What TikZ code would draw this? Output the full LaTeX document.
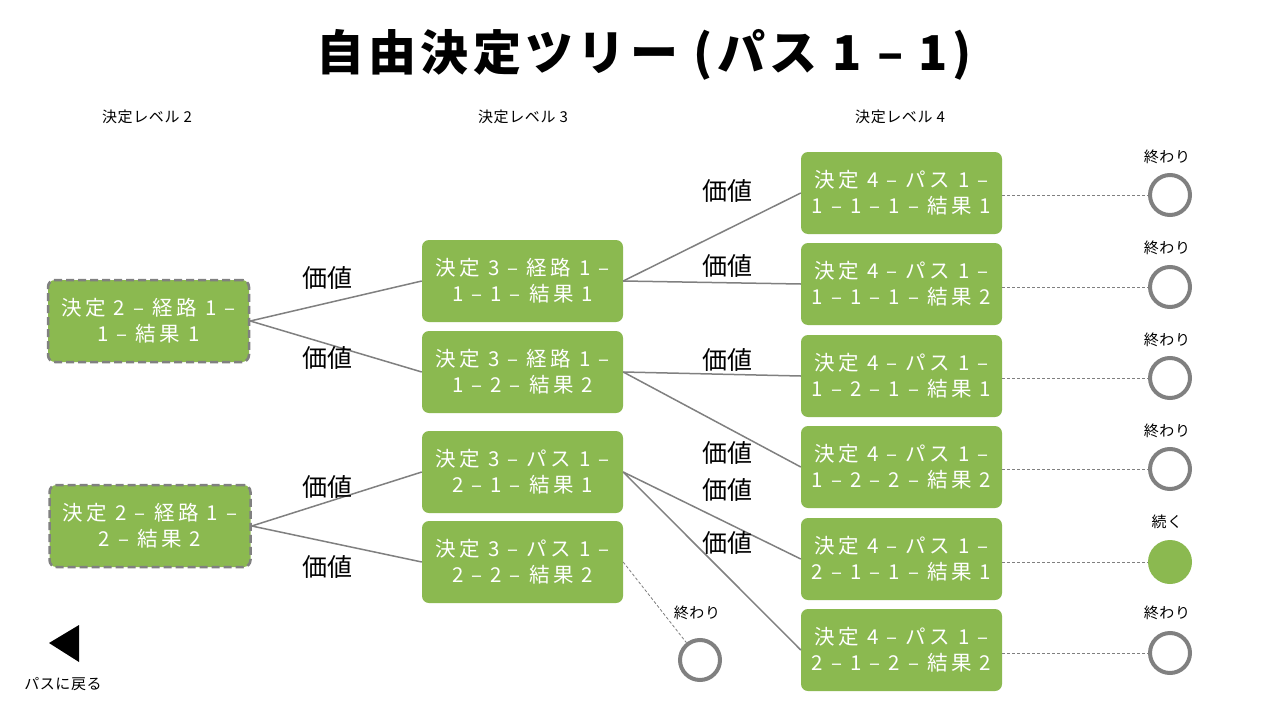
\documentclass[tikz,border=0pt]{standalone}
\usepackage{fontspec}
\setmainfont{Noto Sans CJK JP}
\newfontfamily\nodefont{Noto Sans CJK JP}[LetterSpace=17]
\newfontfamily\titlefont{Noto Sans CJK JP}[LetterSpace=9]
\newfontfamily\smallfont{Noto Sans CJK JP}[LetterSpace=4]
\definecolor{dgreen}{RGB}{139,185,80}
\definecolor{lgray}{RGB}{128,128,128}
\begin{document}
\begin{tikzpicture}[x=1pt,y=-1pt,
  dec/.style={rectangle, rounded corners=7pt, fill=dgreen, minimum width=201pt, minimum height=82pt, text=white, font=\nodefont\fontsize{20.5}{26}\selectfont, align=center, inner sep=0pt},
  decd/.style={dec, draw=lgray, line width=2.5pt, dash pattern=on 8pt off 4pt},
  endc/.style={circle, draw=lgray, line width=4pt, minimum size=40pt, inner sep=0pt},
  contc/.style={circle, fill=dgreen, minimum size=44pt, inner sep=0pt},
  link/.style={draw=lgray, line width=1.5pt},
  dlink/.style={draw=lgray, line width=0.8pt, dash pattern=on 3pt off 2pt},
  val/.style={font=\fontsize{25}{25}\selectfont, inner sep=0pt},
  small/.style={font=\smallfont\fontsize{15}{15}\selectfont, inner sep=0pt},
  hdr/.style={font=\smallfont\fontsize{15}{15}\selectfont, inner sep=0pt}
]
\useasboundingbox (0,0) rectangle (1280,720);
\fill[white] (0,0) rectangle (1280,720);

\node[font=\titlefont\fontsize{48}{48}\selectfont\bfseries, inner sep=0pt] (title) at (644,55) {自由決定ツリー (パス 1 – 1)};

\node[hdr] (h2) at (147,117) {決定レベル 2};
\node[hdr] (h3) at (523,117) {決定レベル 3};
\node[hdr] (h4) at (900,117) {決定レベル 4};

% level 2
\node[decd] (a1) at (148.5,321) {決定 2 – 経路 1 –\\1 – 結果 1};
\node[decd] (a2) at (150,526) {決定 2 – 経路 1 –\\2 – 結果 2};
% level 3
\node[dec] (b1) at (522.5,281) {決定 3 – 経路 1 –\\1 – 1 – 結果 1};
\node[dec] (b2) at (522.5,372) {決定 3 – 経路 1 –\\1 – 2 – 結果 2};
\node[dec] (b3) at (522.5,472) {決定 3 – パス 1 –\\2 – 1 – 結果 1};
\node[dec] (b4) at (522.5,562) {決定 3 – パス 1 –\\2 – 2 – 結果 2};
% level 4
\node[dec] (c1) at (901.5,193) {決定 4 – パス 1 –\\1 – 1 – 1 – 結果 1};
\node[dec] (c2) at (901.5,284) {決定 4 – パス 1 –\\1 – 1 – 1 – 結果 2};
\node[dec] (c3) at (901.5,376) {決定 4 – パス 1 –\\1 – 2 – 1 – 結果 1};
\node[dec] (c4) at (901.5,467) {決定 4 – パス 1 –\\1 – 2 – 2 – 結果 2};
\node[dec] (c5) at (901.5,559) {決定 4 – パス 1 –\\2 – 1 – 1 – 結果 1};
\node[dec] (c6) at (901.5,650) {決定 4 – パス 1 –\\2 – 1 – 2 – 結果 2};

% end circles
\node[endc] (e1) at (1170,195) {};
\node[endc] (e2) at (1170,287) {};
\node[endc] (e3) at (1170,378) {};
\node[endc] (e4) at (1170,469) {};
\node[contc] (e5) at (1170,562) {};
\node[endc] (e6) at (1170,653) {};
\node[endc] (e7) at (700,660) {};

\node[small] (l1) at (1167,157) {終わり};
\node[small] (l2) at (1167,248) {終わり};
\node[small] (l3) at (1167,340) {終わり};
\node[small] (l4) at (1167,431) {終わり};
\node[small] (l5) at (1167,522) {続く};
\node[small] (l6) at (1167,613) {終わり};
\node[small] (l7) at (697,613) {終わり};

% connectors
\draw[link] (a1.east) -- (b1.west);
\draw[link] (a1.east) -- (b2.west);
\draw[link] (a2.east) -- (b3.west);
\draw[link] (a2.east) -- (b4.west);
\draw[link] (b1.east) -- (c1.west);
\draw[link] (b1.east) -- (c2.west);
\draw[link] (b2.east) -- (c3.west);
\draw[link] (b2.east) -- (c4.west);
\draw[link] (b3.east) -- (c5.west);
\draw[link] (b3.east) -- (c6.west);

\draw[dlink] ([yshift=-2pt]c1.east) -- ([yshift=-2pt]c1.east -| e1.west);
\draw[dlink] ([yshift=-3pt]c2.east) -- ([yshift=-3pt]c2.east -| e2.west);
\draw[dlink] ([yshift=-2pt]c3.east) -- ([yshift=-2pt]c3.east -| e3.west);
\draw[dlink] ([yshift=-2pt]c4.east) -- ([yshift=-2pt]c4.east -| e4.west);
\draw[dlink] ([yshift=-3pt]c5.east) -- ([yshift=-3pt]c5.east -| e5.west);
\draw[dlink] ([yshift=-3pt]c6.east) -- ([yshift=-3pt]c6.east -| e6.west);
\draw[dlink] (b4.east) -- (e7);

% value labels
\node[val] (v1) at (327,278) {価値};
\node[val] (v2) at (327,358) {価値};
\node[val] (v3) at (327,487) {価値};
\node[val] (v4) at (327,567) {価値};
\node[val] (v5) at (727,191) {価値};
\node[val] (v6) at (727,266) {価値};
\node[val] (v7) at (727,360) {価値};
\node[val] (v8) at (727,453) {価値};
\node[val] (v9) at (727,490) {価値};
\node[val] (v10) at (727,543) {価値};

% back button
\fill (49,643) -- (79,625) -- (79,662) -- cycle;
\node[small] (back) at (63,684) {パスに戻る};
\end{tikzpicture}
\end{document}
